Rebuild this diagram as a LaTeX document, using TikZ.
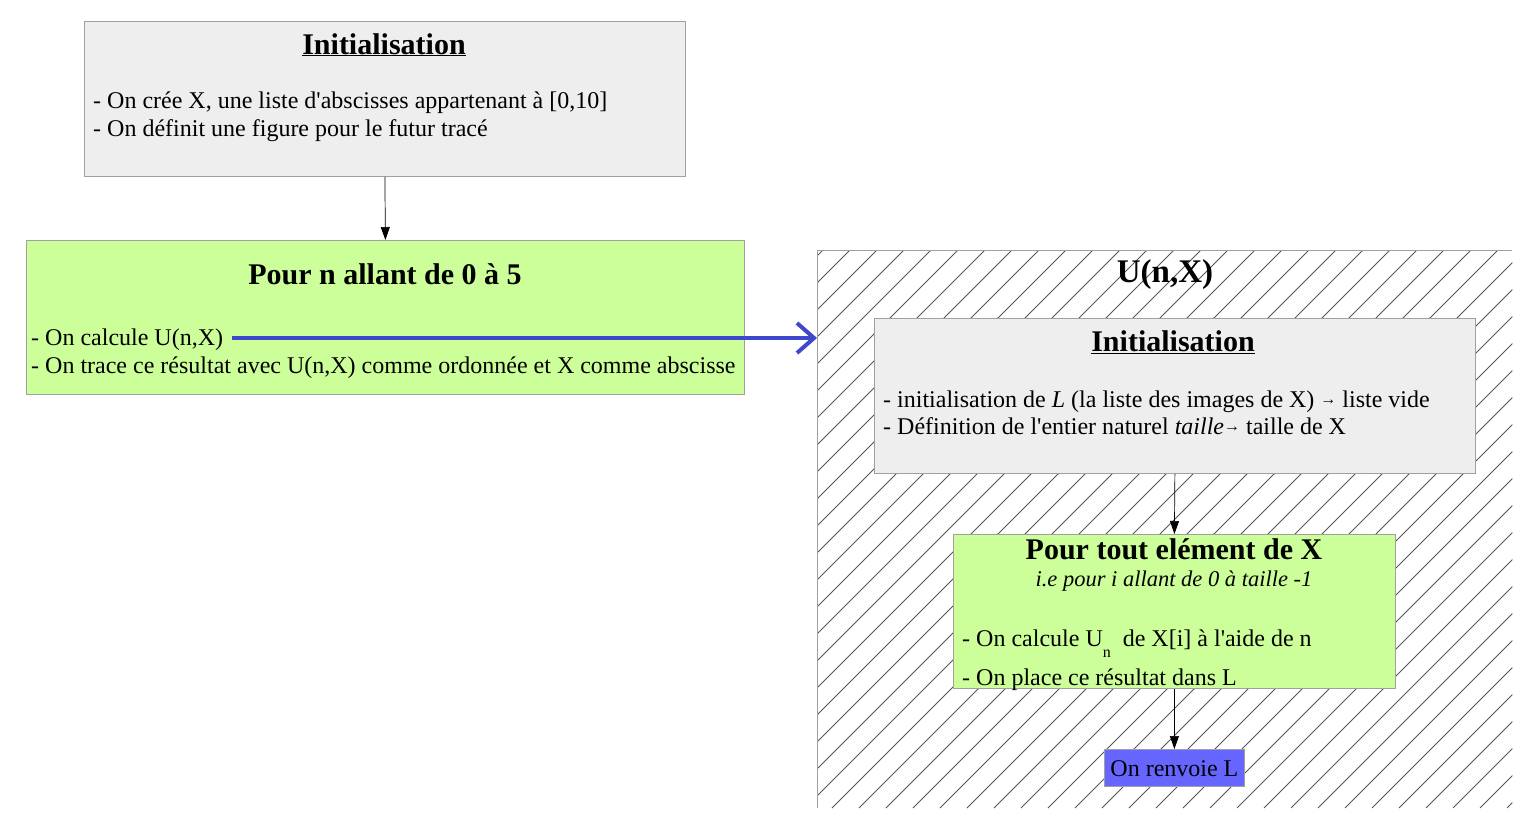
\documentclass[tikz,border=0pt]{standalone}
\usepackage{fontspec}
\setmainfont{Liberation Serif}
\usetikzlibrary{arrows.meta}
\definecolor{grayfill}{HTML}{EEEEEE}
\definecolor{greenfill}{HTML}{CCFF99}
\definecolor{bluefill}{HTML}{6666FF}
\definecolor{arrowblue}{HTML}{3F48CC}
\definecolor{bordergray}{HTML}{A0A0A0}
\definecolor{hatchgray}{HTML}{555555}
\newcommand{\apos}{\textquotesingle}
\newcommand{\smarrow}{\raisebox{3pt}{\fontsize{16}{19}\selectfont →}}
\begin{document}
\begin{tikzpicture}[x=1pt,y=-1pt,
  box/.style={draw=bordergray, line width=0.8pt, inner sep=0pt, anchor=north west},
  graybox/.style={box, fill=grayfill},
  greenbox/.style={box, fill=greenfill},
  bluebox/.style={box, fill=bluefill},
  body/.style={inner sep=0pt, anchor=base west, font=\fontsize{24}{28}\selectfont},
  title/.style={inner sep=0pt, anchor=base, font=\fontsize{30}{36}\selectfont\bfseries},
  flow/.style={-{Triangle[length=13pt,width=9pt]}, line width=0.7pt},
  hatch/.style={hatchgray, line width=0.8pt},
]
\useasboundingbox (0,0) rectangle (1539,831);

% ---------- left column ----------
\node[graybox, minimum width=601pt, minimum height=155pt] (init) at (84,21) {};
\node[title] (initT) at (384,54) {\underline{Initialisation}};
\node[body] (initA) at (93,108) {- On crée X, une liste d\apos abscisses appartenant à [0,10]};
\node[body] (initB) at (93,136) {- On définit une figure pour le futur tracé};

\node[greenbox, minimum width=718pt, minimum height=154pt] (pour) at (26,240) {};
\node[title] (pourT) at (385,284) {Pour n allant de 0 à 5};
\node[body] (pourA) at (31,345) {- On calcule U(n,X)};
\node[body] (pourB) at (31,373) {- On trace ce résultat avec U(n,X) comme ordonnée et X comme abscisse};

\draw[flow] (init.south) -- (pour.north);

% ---------- hatched region U(n,X) ----------
\node[inner sep=0pt, anchor=north west, minimum width=695pt, minimum height=558pt] (urect) at (817,250) {};
\begin{scope}
  \clip (urect.north west) rectangle (urect.south east);
  \foreach \c in {1073,1100,...,2315}
    \draw[hatch] (\c-250,250) -- (\c-808,808);
\end{scope}
\draw[bordergray, line width=0.8pt] (urect.south west) -- (urect.north west) -- (urect.north east);
\node[inner sep=0pt, anchor=base, font=\fontsize{33}{40}\selectfont\bfseries] (uT) at (1165,282) {U(n,X)};

\coordinate (ustart) at (232,338);
\draw[arrowblue, line width=4pt, -{Straight Barb[length=17pt,width=30pt]}] (ustart) -- (ustart -| urect.west);

\node[graybox, minimum width=601pt, minimum height=155pt] (init2) at (874,318) {};
\node[title] (init2T) at (1173,351) {\underline{Initialisation}};
\node[body] (init2A) at (883,407) {- initialisation de \textit{L} (la liste des images de X) \smarrow{} liste vide};
\node[body] (init2B) at (883,434) {- Définition de l\apos entier naturel \textit{taille}\smarrow{} taille de X};

\node[greenbox, minimum width=442pt, minimum height=154pt] (tout) at (953,534) {};
\node[title] (toutT) at (1174,559) {Pour tout elément de X};
\node[inner sep=0pt, anchor=base, font=\fontsize{22.5}{27}\selectfont\itshape] (toutS) at (1174,586) {i.e pour i allant de 0 à taille -1};
\node[body] (toutA) at (962,646) {- On calcule U\raisebox{-11pt}{\fontsize{16}{19}\selectfont n}\ \ de X[i] à l\apos aide de n};
\node[body] (toutB) at (962,685) {- On place ce résultat dans L};

\draw[flow] (init2.south) -- (tout.north);

\node[bluebox, minimum width=140pt, minimum height=37pt] (renv) at (1104,749) {};
\node[body, anchor=base] (renvT) at (renv.center |- 0,776) {On renvoie L};

\draw[flow] (tout.south) -- (renv.north);
\end{tikzpicture}
\end{document}
